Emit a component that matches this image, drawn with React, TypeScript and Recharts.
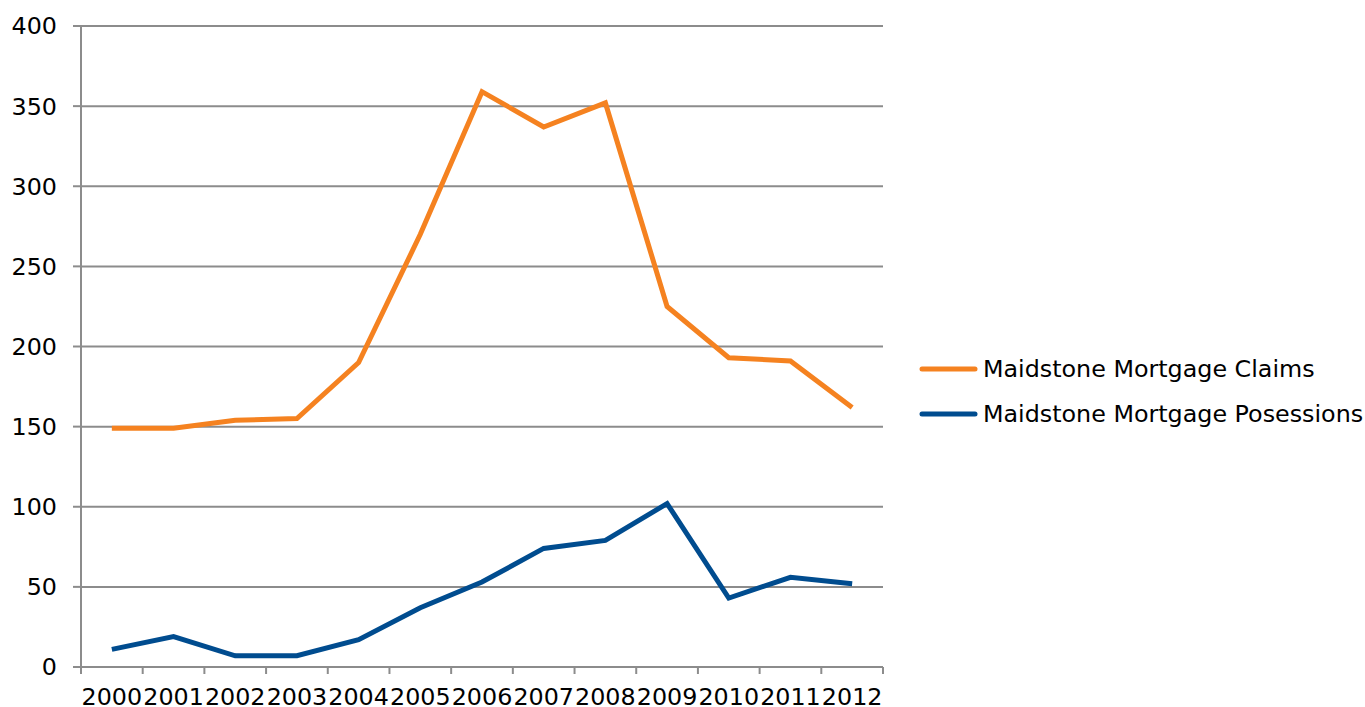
import { LineChart, Line, XAxis, YAxis, CartesianGrid, Legend } from 'recharts';

const years = ['2000', '2001', '2002', '2003', '2004', '2005', '2006', '2007', '2008', '2009', '2010', '2011', '2012'];
const claims = [149, 149, 154, 155, 190, 270, 359, 337, 352, 225, 193, 191, 162];
const possessions = [11, 19, 7, 7, 17, 37, 53, 74, 79, 102, 43, 56, 52];
const yTicks = [0, 50, 100, 150, 200, 250, 300, 350, 400];

const data = years.map((year, i) => ({
    year,
    claims: claims[i],
    possessions: possessions[i],
}));

const FONT = '"DejaVu Sans", Verdana, sans-serif';
const FONT_SIZE = 23.8;
const GRID = '#8c8c8c';
const ORANGE = '#f58220';
const BLUE = '#004c8f';

// category label in the middle of the band, tick marks on the band edges (Excel style)
function YearTick(props: any) {
    const { x, y, payload, index, width } = props;
    const band = width / years.length;
    const axisY = y - 21;
    const left = x - band / 2;
    return (
        <g>
            <line x1={left} x2={left} y1={axisY} y2={axisY + 7} stroke={GRID} strokeWidth={2} />
            {index === years.length - 1 && (
                <line x1={left + band} x2={left + band} y1={axisY} y2={axisY + 7} stroke={GRID} strokeWidth={2} />
            )}
            <text x={x} y={y} dy="0.71em" textAnchor="middle" fill="#000" fontSize={FONT_SIZE} fontFamily={FONT}>
                {payload.value}
            </text>
        </g>
    );
}

function LegendBox({ payload }: any) {
    return (
        <div style={{ fontFamily: FONT, fontSize: FONT_SIZE }}>
            {(payload || []).map((entry: any) => (
                <div key={entry.value} style={{ display: 'flex', alignItems: 'center', height: 45 }}>
                    <svg width={64} height={10}>
                        <line x1={3} x2={56} y1={5} y2={5} stroke={entry.color} strokeWidth={5} strokeLinecap="round" />
                    </svg>
                    <span style={{ color: '#000', whiteSpace: 'nowrap' }}>{entry.value}</span>
                </div>
            ))}
        </div>
    );
}

export default function App() {
    return (
        <div style={{ position: 'absolute', left: 0, top: 0, width: 1365, height: 707, background: '#fff' }}>
            <LineChart
                width={1365}
                height={707}
                data={data}
                margin={{ top: 26, right: 482, bottom: 0, left: 0 }}
            >
                <CartesianGrid vertical={false} stroke={GRID} strokeWidth={2} />
                <XAxis
                    dataKey="year"
                    scale="band"
                    height={40}
                    tickLine={false}
                    tickSize={7}
                    tickMargin={14}
                    interval={0}
                    axisLine={{ stroke: GRID, strokeWidth: 2 }}
                    tick={<YearTick />}
                />
                <YAxis
                    width={81}
                    domain={[0, 400]}
                    ticks={yTicks}
                    interval={0}
                    tickSize={8}
                    tickMargin={16}
                    tickLine={{ stroke: GRID, strokeWidth: 2 }}
                    axisLine={{ stroke: GRID, strokeWidth: 2 }}
                    tick={{ fill: '#000', fontSize: FONT_SIZE, fontFamily: FONT }}
                />
                <Legend
                    layout="vertical"
                    align="center"
                    verticalAlign="middle"
                    wrapperStyle={{ left: 919, top: 346, width: 446 }}
                    content={<LegendBox />}
                />
                <Line
                    type="linear"
                    dataKey="claims"
                    name="Maidstone Mortgage Claims"
                    stroke={ORANGE}
                    strokeWidth={5}
                    dot={false}
                    isAnimationActive={false}
                />
                <Line
                    type="linear"
                    dataKey="possessions"
                    name="Maidstone Mortgage Posessions"
                    stroke={BLUE}
                    strokeWidth={5}
                    dot={false}
                    isAnimationActive={false}
                />
            </LineChart>
        </div>
    );
}
